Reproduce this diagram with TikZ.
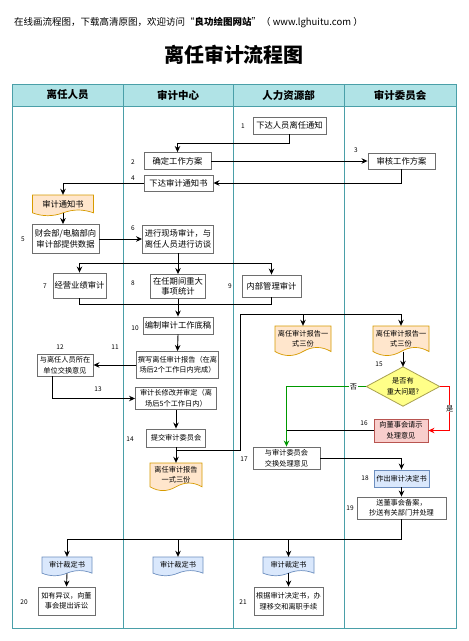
\documentclass[tikz,border=0pt]{standalone}
\usepackage{fontspec}
\newfontfamily\cjk{Noto Sans CJK SC}
\usetikzlibrary{arrows.meta,calc}
\definecolor{poolline}{HTML}{4A9FA8}
\definecolor{headfill}{HTML}{B0E3E6}
\definecolor{boxline}{HTML}{6E6E6E}
\definecolor{orfill}{HTML}{FFE6CC}
\definecolor{orline}{HTML}{D79B00}
\definecolor{blfill}{HTML}{DAE8FC}
\definecolor{blline}{HTML}{6C8EBF}
\definecolor{rdfill}{HTML}{F8CECC}
\definecolor{rdline}{HTML}{B85450}
\definecolor{yefill}{HTML}{FFFF88}
\definecolor{yeline}{HTML}{A8A050}
\definecolor{gline}{HTML}{009900}
\definecolor{rline}{HTML}{FF0000}
\newcommand{\fA}{\cjk\fontsize{8.3}{10.5}\selectfont}
\newcommand{\fB}{\cjk\fontsize{7.2}{10.5}\selectfont}
\newcommand{\fN}{\cjk\fontsize{6.5}{7}\selectfont}
\newcommand{\docshape}[8]{%
  \draw[#6] ({#2-#4/2},#3) -- ({#2+#4/2},#3) -- ({#2+#4/2},{#3+0.85*#5})
   .. controls ({#2+#4/3},{#3+0.67*#5}) and ({#2+#4/6},{#3+0.67*#5}) .. (#2,{#3+0.85*#5})
   .. controls ({#2-#4/6},{#3+1.03*#5}) and ({#2-#4/3},{#3+1.03*#5}) .. ({#2-#4/2},{#3+0.85*#5}) -- cycle;
  \node[doctext,font=#7,minimum width=#4,minimum height={0.85*#5}] (#1) at (#2,{#3+0.425*#5}) {#8};
}
\tikzset{
  box/.style={draw=boxline, line width=0.9pt, fill=white, align=center, inner sep=1pt, font=\fA},
  doctext/.style={align=center, inner sep=0pt},
  orangedoc/.style={draw=orline, fill=orfill, line width=0.7pt},
  bluedoc/.style={draw=blline, fill=blfill, line width=0.7pt},
  num/.style={font=\fN, inner sep=0pt},
  conn/.style={line width=0.9pt, -{Stealth[length=6pt,width=5.5pt]}},
  plainline/.style={line width=0.9pt},
  pool/.style={draw=poolline, line width=0.8pt},
  head/.style={font=\cjk\fontsize{10.5}{12}\selectfont\bfseries, inner sep=0pt},
  edgelab/.style={fill=white, inner sep=0.6pt, font=\fB, text=black}
}
\begin{document}
\begin{tikzpicture}[x=1pt,y=-1pt,font=\cjk]
\useasboundingbox[fill=white] (0,0) rectangle (469,641);
% top text and title
\node[anchor=west, font=\cjk\fontsize{9.5}{11}\selectfont, inner sep=0pt] (topline) at (14,23) {在线画流程图，下载高清原图，欢迎访问“\textbf{良功绘图网站}”（ www.lghuitu.com ）};
\node[font=\cjk\fontsize{20}{24}\selectfont\bfseries, inner sep=0pt] (title) at (234,55) {离任审计流程图};
% pool
\fill[headfill] (12,84) rectangle (456,106);
\draw[pool] (12,84) rectangle (456,628);
\draw[pool] (12,106) -- (456,106);
\draw[pool] (123,84) -- (123,628);
\draw[pool] (233,84) -- (233,628);
\draw[pool] (344,84) -- (344,628);
\node[head] (h1) at (67.5,95) {离任人员};
\node[head] (h2) at (178,95) {审计中心};
\node[head] (h3) at (288.5,95) {人力资源部};
\node[head] (h4) at (400,95) {审计委员会};
% boxes
\node[box, minimum width=73, minimum height=17] (n1) at (289.5,125.5) {下达人员离任通知};
\node[box, minimum width=67, minimum height=17] (n2) at (177.5,161) {确定工作方案};
\node[box, minimum width=67, minimum height=16] (n3) at (401.5,161) {审核工作方案};
\node[box, minimum width=69, minimum height=16] (n4) at (178.5,183) {下达审计通知书};
\node[box, minimum width=67, minimum height=29] (n5) at (65.5,239) {财会部/电脑部向\\审计部提供数据};
\node[box, minimum width=71, minimum height=28] (n6) at (178,239) {进行现场审计，与\\离任人员进行访谈};
\node[box, minimum width=53, minimum height=25] (n7) at (79.5,285.5) {经营业绩审计};
\node[box, minimum width=55, minimum height=24] (n8) at (178,286.5) {在任期间重大\\事项统计};
\node[box, minimum width=59, minimum height=22] (n9) at (271.5,286) {内部管理审计};
\node[box, minimum width=70, minimum height=17] (n10) at (178,325.5) {编制审计工作底稿};
\node[box, font=\fB, minimum width=81, minimum height=27] (n11) at (177.5,365) {撰写离任审计报告（在离\\场后2个工作日内完成）};
\node[box, font=\fB, minimum width=56, minimum height=22] (n12) at (65,365) {与离任人员所在\\单位交换意见};
\node[box, font=\fB, minimum width=81, minimum height=22] (n13) at (176,398.5) {审计长修改并审定（离\\场后5个工作日内）};
\node[box, font=\fB, minimum width=59, minimum height=18] (n14) at (176,438) {提交审计委员会};
\node[doctext, font=\fB, minimum width=73, minimum height=39] (dia) at (403,386.5) {};
\draw[fill=yefill, draw=yeline, line width=0.8pt] (dia.north) -- (dia.east) -- (dia.south) -- (dia.west) -- cycle;
\node[doctext, font=\fB] (diatext) at (dia.center) {是否有\\重大问题?};
\node[box, font=\fB, fill=rdfill, draw=rdline, minimum width=54, minimum height=23] (n16) at (401,430.5) {向董事会请示\\处理意见};
\node[box, font=\fB, minimum width=67, minimum height=22] (n17) at (286.5,458) {与审计委员会\\交换处理意见};
\node[box, font=\fB, fill=blfill, draw=blline, minimum width=55, minimum height=17] (n18) at (401.5,478.5) {作出审计决定书};
\node[box, font=\fB, minimum width=89, minimum height=22] (n19) at (401.5,508) {送董事会备案，\\抄送有关部门并处理};
\node[box, font=\fB, minimum width=57, minimum height=28] (n20) at (66.5,601) {如有异议，向董\\事会提出诉讼};
\node[box, font=\fB, minimum width=69, minimum height=28] (n21) at (288.5,601) {根据审计决定书，办\\理移交和离职手续};
% documents
\docshape{d1}{63}{195}{61}{21}{orangedoc}{\fA}{审计通知书}
\docshape{rep2}{303}{326}{56}{30}{orangedoc}{\fB}{离任审计报告一\\式三份}
\docshape{rep3}{401}{326}{56}{30}{orangedoc}{\fB}{离任审计报告一\\式三份}
\docshape{rep1}{176}{463}{52}{28}{orangedoc}{\fB}{离任审计报告\\一式三份}
\docshape{b1}{67}{557}{50}{19}{bluedoc}{\fB}{审计裁定书}
\docshape{b2}{178}{557}{50}{19}{bluedoc}{\fB}{审计裁定书}
\docshape{b3}{288.5}{557}{51}{19}{bluedoc}{\fB}{审计裁定书}
% number labels
\node[num] (l1) at (243,126) {1};
\node[num] (l2) at (133,162) {2};
\node[num] (l3) at (356,150) {3};
\node[num] (l4) at (133,178) {4};
\node[num] (l5) at (23,239) {5};
\node[num] (l6) at (133,228) {6};
\node[num] (l7) at (45,286) {7};
\node[num] (l8) at (133,283) {8};
\node[num] (l9) at (230,286) {9};
\node[num] (l10) at (135,328) {10};
\node[num] (l11) at (115,347) {11};
\node[num] (l12) at (60,347) {12};
\node[num] (l13) at (98,389) {13};
\node[num] (l14) at (130,439) {14};
\node[num] (l15) at (379,364) {15};
\node[num] (l16) at (364,423) {16};
\node[num] (l17) at (244,459) {17};
\node[num] (l18) at (365,478) {18};
\node[num] (l19) at (350,508) {19};
\node[num] (l20) at (24,602) {20};
\node[num] (l21) at (243,602) {21};
% connectors
\draw[conn] (n1.south) -- ++(0,9) -| (n2.north);
\draw[conn] (n2.east) -- (n3.west);
\draw[conn] (n3.south) |- (n4.east);
\draw[conn] (n4.west) -| (d1.north);
\draw[conn] (d1.south) -- (d1.south |- n5.north);
\draw[conn] (n5.east) -- (n6.west);
\coordinate (j1) at ($(n6.south)+(0,10)$);
\draw[conn] (n6.south) -- (n8.north);
\draw[conn] (j1) -| (n7.north);
\draw[conn] (j1) -| (n9.north);
\draw[plainline] (n7.south) -- ++(0,6) -| (n9.south);
\draw[conn] (n8.south) -- (n10.north);
\draw[conn] (n10.south) -- (n11.north);
\draw[conn] (n11.west) -- (n12.east);
\draw[conn] ($(n12.south)+(-13,0)$) |- (n13.west);
\draw[conn] (n13.south) -- (n14.north);
\draw[conn] (n14.south) -- (rep1.north);
\coordinate (j2) at ($(n14.south)+(0,3)$);
\coordinate (k1) at (240,314);
\draw[conn] (j2) -| (k1) -| (rep3.north);
\draw[conn] (rep2.north |- k1) -- (rep2.north);
\draw[conn] (rep3.south -| dia.north) -- (dia.north);
\draw[conn, rline] (dia.east) -- ++(10,0) |- (n16.east) node[pos=0.25, edgelab] {是};
\draw[conn, gline] (dia.west) -| (n17.north) node[pos=0.08, edgelab] {否};
\draw[plainline] (n16.west) -- (n16.west -| n17.north);
\draw[conn] (n17.east) -| (n18.north);
\draw[conn] (n18.south) -- (n19.north);
\coordinate (j3) at ($(n19.south)+(0,20)$);
\draw[conn] (n19.south) -- (j3) -| (b1.north);
\draw[conn] (b2.north |- j3) -- (b2.north);
\draw[conn] (b3.north |- j3) -- (b3.north);
\draw[conn] (b1.south) -- (n20.north);
\draw[conn] (b3.south) -- (n21.north);
\end{tikzpicture}
\end{document}
